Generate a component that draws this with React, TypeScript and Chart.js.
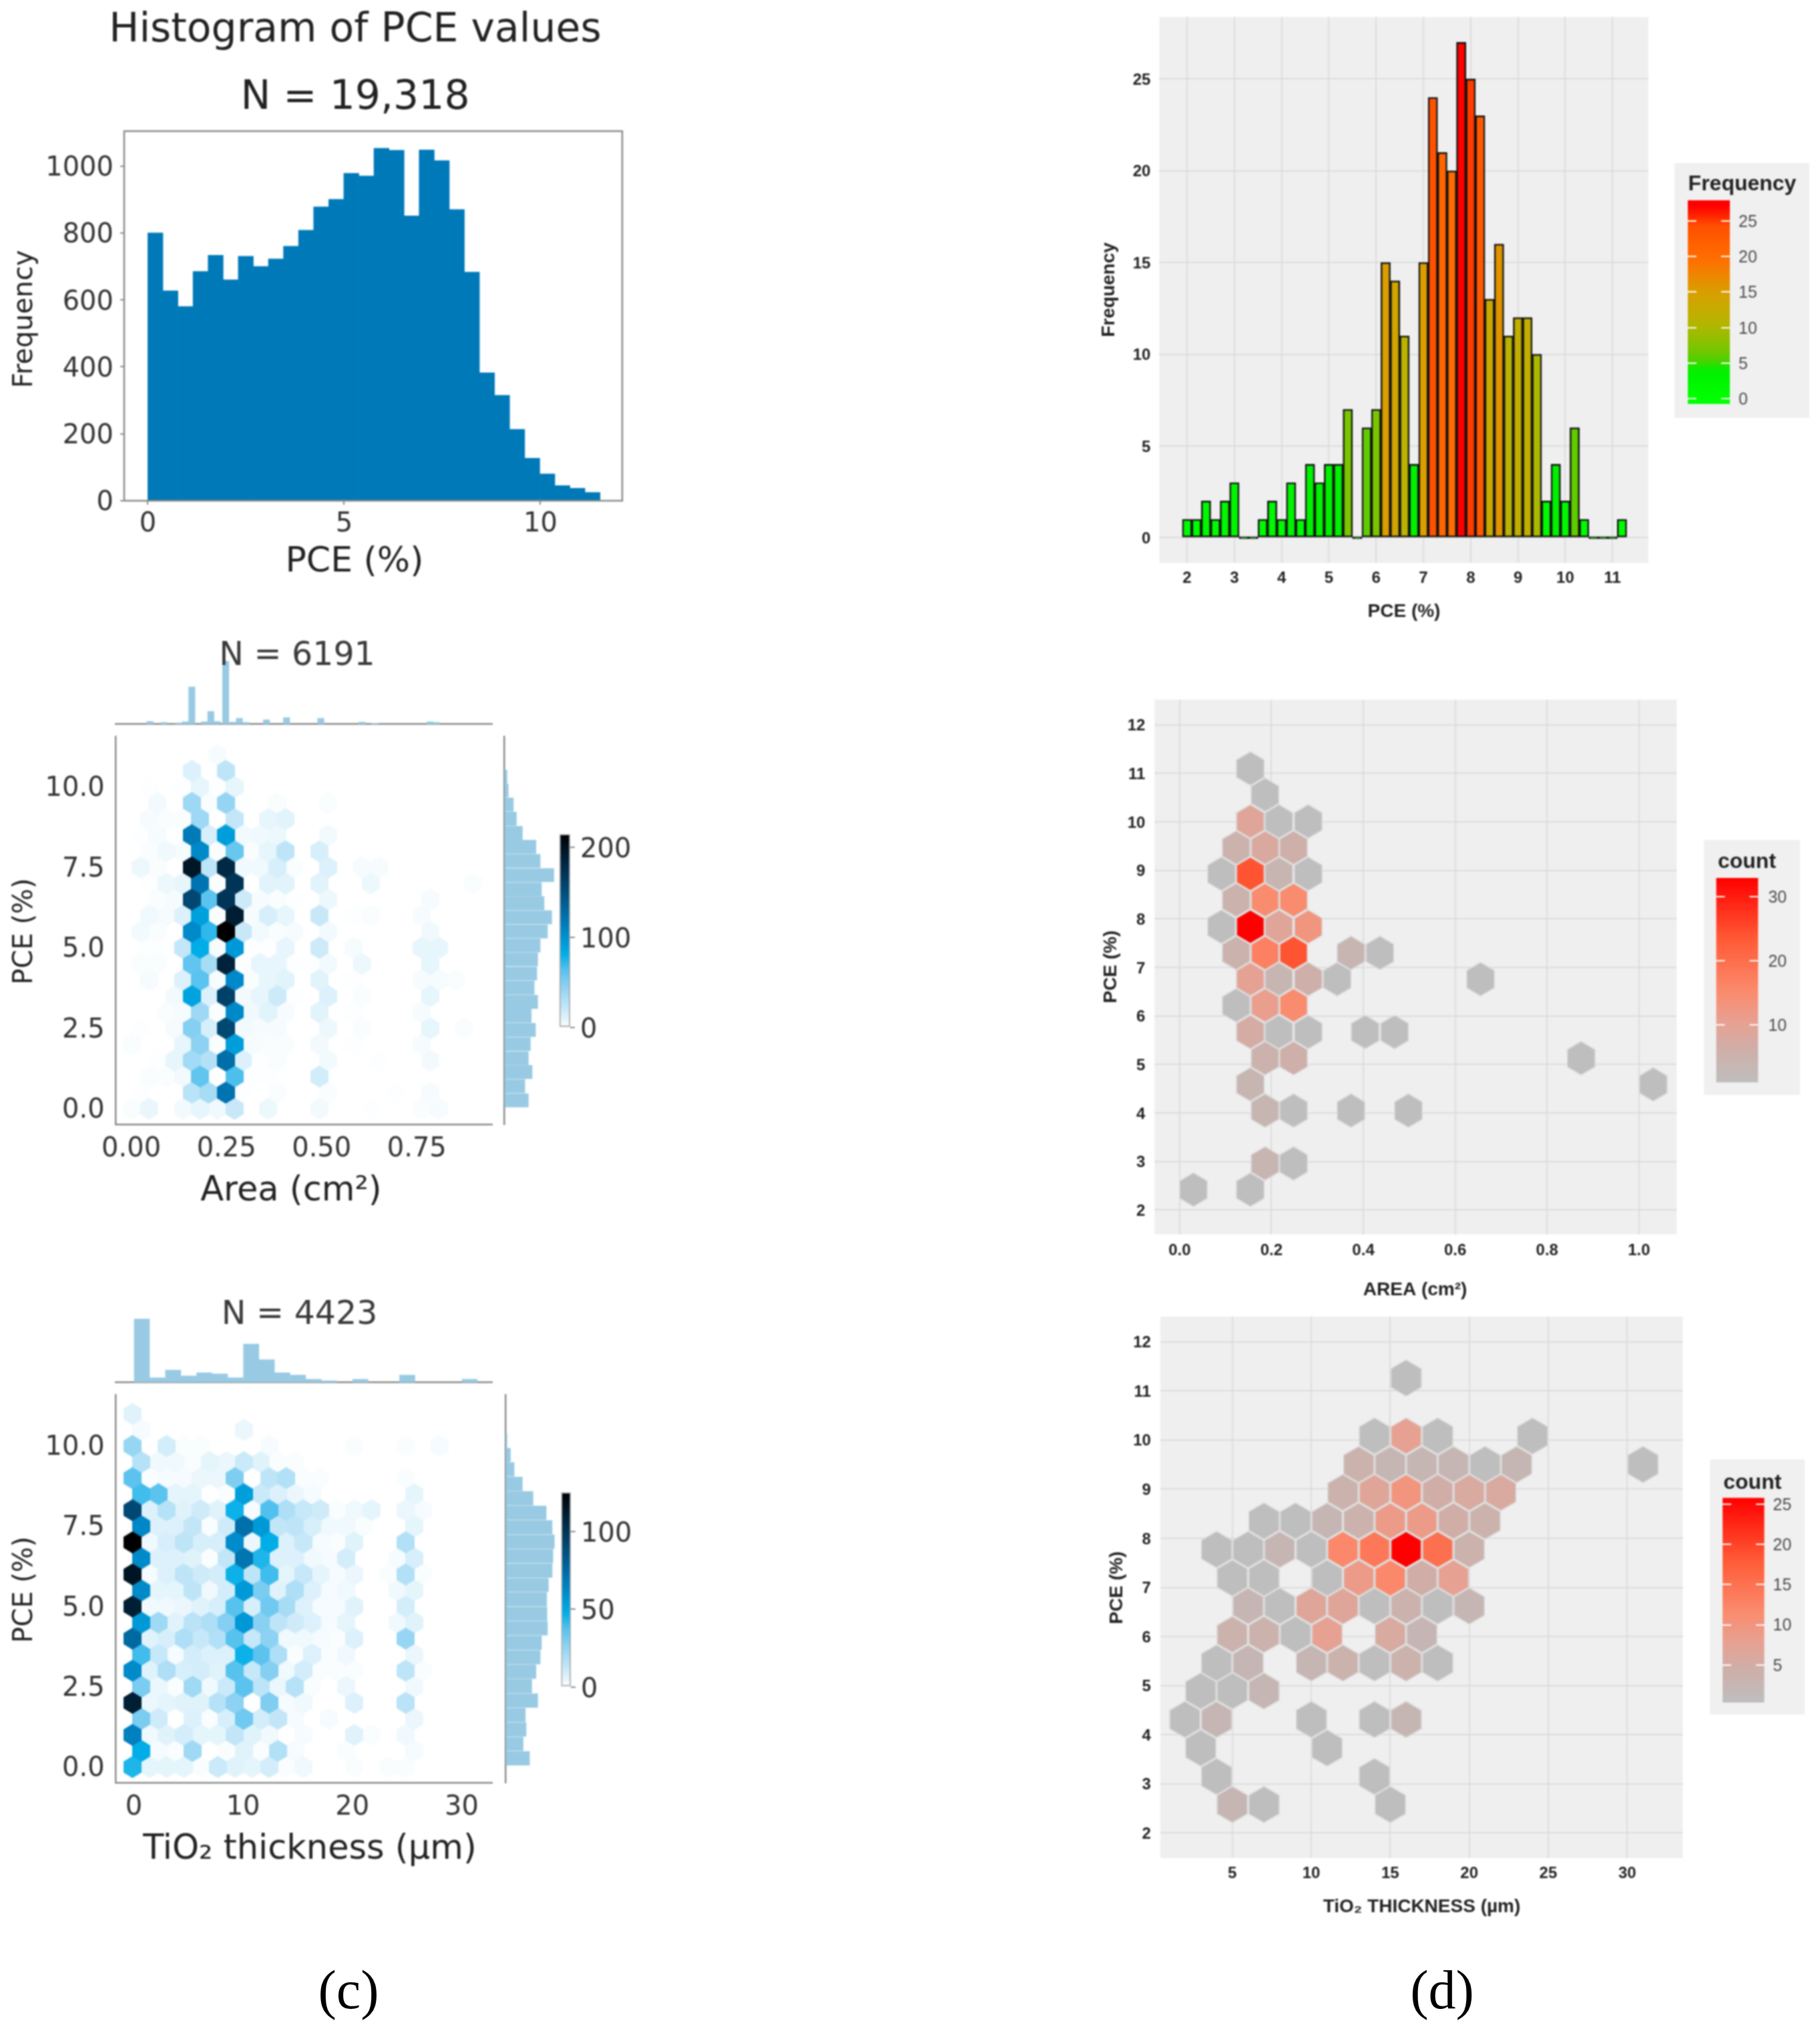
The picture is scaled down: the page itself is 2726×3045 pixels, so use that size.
import React, { useEffect, useRef } from "react";
import { Chart, registerables } from "chart.js";

Chart.register(...registerables);

/* ---------- (c) top: histogram of PCE ---------- */
const pceBinCentres = [0.192,0.576,0.96,1.344,1.728,2.112,2.496,2.88,3.264,3.648,4.032,4.416,4.8,5.184,5.568,5.952,6.336,6.72,7.104,7.488,7.872,8.256,8.64,9.024,9.408,9.792,10.176,10.56,10.944,11.328];
const pceFrequency = [800,627,580,685,733,660,730,700,722,760,808,878,900,978,970,1053,1047,851,1048,1016,870,683,382,315,213,127,80,45,37,25];

/* ---------- shared row positions of the two hexbin panels of (c) ---------- */
const hexRowPce = [0,0.5,1,1.5,2,2.5,3,3.5,4,4.5,5,5.5,6,6.5,7,7.5,8,8.5,9,9.5,10,10.5,11];

/* ---------- (c) area hexbin ---------- */
const areaColsEven = [0.002,0.047,0.092,0.136,0.181,0.226,0.271,0.315,0.36,0.405,0.45,0.494,0.539,0.584,0.629,0.673,0.718,0.763,0.808,0.852,0.897];
const areaColsOdd = [0.025,0.069,0.114,0.159,0.203,0.248,0.293,0.338,0.383,0.427,0.472,0.517,0.562,0.606,0.651,0.696,0.741,0.785,0.83,0.875,0.92];
const areaCounts = [
  [2,7,0,4,8,5,20,0,6,0,0,4,0,0,1,0,0,2,3],
  [1,0,0,26,34,120,1,0,2,0,0,2,0,0,0,1,0,3],
  [0,2,2,4,60,0,66,1,1,0,0,16],
  [0,1,8,36,28,125,12,1,2,0,0,4,0,0,1,0,0,4],
  [2,0,0,8,45,2,92,3,2,2,0,4,0,1,0,0,0,3],
  [1,0,3,48,14,155,4,3,3,0,0,6,0,2,0,0,0,8,0,2],
  [0,0,2,3,38,2,105,5,10,3,0,10,0,1,0,0,0,3],
  [0,0,4,88,12,160,4,8,18,1,0,12,0,2,0,0,0,8],
  [0,3,0,12,62,3,105,2,8,10,0,10,0,1,0,0,0,3,3,2],
  [2,2,0,60,34,185,1,8,8,1,1,4,0,6,0,0,0,8],
  [0,1,1,22,82,3,95,1,1,8,0,18,0,3,0,0,0,8,8],
  [4,2,0,105,72,214,20,4,2,3,0,4,0,0,0,0,0,5],
  [0,5,3,12,90,2,190,3,14,8,0,20,0,1,2,0,0,3],
  [0,2,3,155,62,170,18,3,2,1,0,6,0,0,0,0,0,3],
  [0,1,6,8,120,2,170,0,10,10,0,10,0,0,6,0,0,0,0,0,2],
  [6,2,0,195,24,180,5,5,14,2,0,12,0,3,3],
  [0,2,5,3,105,2,58,2,8,24,0,14],
  [1,3,0,115,14,92,4,5,6,0,0,4],
  [0,3,2,2,38,0,22,0,8,10],
  [0,4,0,38,2,42,1,0,2,0,0,2],
  [0,1,0,1,8,1,8],
  [0,0,0,12,0,24],
  [0,0,0,0,0,3],
];
const areaTopX = [0.049,0.086,0.125,0.142,0.159,0.192,0.209,0.226,0.248,0.267,0.284,0.302,0.355,0.408,0.498,0.606,0.64,0.785,0.802];
const areaTopCount = [49,28,21,42,679,42,231,49,1148,35,105,28,77,119,105,35,14,42,28];
const areaSidePce = [0.26,0.7,1.14,1.57,2.01,2.45,2.89,3.32,3.76,4.2,4.64,5.07,5.51,5.95,6.39,6.82,7.26,7.7,8.14,8.57,9.01,9.45,9.89,10.32];
const areaSideCount = [220,188,255,220,239,286,247,306,274,298,306,329,396,435,365,341,455,329,290,165,110,82,35,24];

/* ---------- (c) TiO2 thickness hexbin ---------- */
const tioColsEven = [-0.12,1.44,3,4.57,6.13,7.69,9.25,10.81,12.38,13.94,15.5,17.06,18.62,20.19,21.75,23.31,24.87,26.43,28,29.56,31.12];
const tioColsOdd = [0.69,2.25,3.81,5.37,6.94,8.5,10.06,11.62,13.18,14.75,16.31,17.87,19.43,20.99,22.56,24.12,25.68,27.24,28.8,30.37,31.93];
const tioCounts = [
  [44,5,5,5,1,11,6,5,9,1,3,0,0,1,0,1,1],
  [48,2,1,22,0,1,6,1,17,2,0,0,1,0,0,0,2],
  [65,3,6,9,5,5,13,6,3,0,2,0,0,6,1,0,3],
  [30,10,0,7,1,8,32,9,13,2,0,2,0,0,0,0,4],
  [110,4,5,6,6,16,26,0,29,2,3,0,0,7,0,0,15],
  [30,4,1,22,3,11,36,14,4,16,1,0,4,0,0,0,3],
  [61,6,18,8,9,6,37,12,28,3,9,1,1,1,0,0,14,1],
  [40,12,2,9,7,7,46,36,18,1,7,1,3,0,0,0,4],
  [75,6,8,18,12,17,37,12,26,3,3,2,1,7,0,0,24],
  [55,22,6,15,18,28,56,27,14,10,7,2,5,0,0,3,6],
  [110,3,3,4,6,8,37,8,32,20,7,2,2,6,0,0,9],
  [61,5,5,14,3,9,55,30,6,18,7,2,3,0,0,3,5],
  [115,2,7,14,10,9,46,14,40,5,12,5,2,4,0,1,17,1],
  [61,7,7,6,1,13,70,44,7,7,3,2,9,0,0,2,8],
  [125,3,8,14,8,8,60,4,48,7,12,2,1,6,0,0,17],
  [62,7,7,13,1,10,72,55,13,14,8,3,3,1,0,0,5],
  [90,7,16,6,10,6,46,2,38,18,12,10,1,3,5,0,4,2],
  [40,36,5,5,0,1,53,11,7,4,2,0,0,0,0,0,5],
  [36,1,2,2,4,4,29,0,14,17,1,1,0,0,0,0,1],
  [16,3,3,1,5,4,11,6,1,1],
  [24,0,9,1,1,0,0,0,2,0,0,0,0,1,0,0,1,0,2],
  [2,0,0,0,0,0,4],
  [6],
];
const tioTopX = [0.74,2.17,3.6,5.02,6.45,7.88,9.31,10.74,12.17,13.59,15.02,16.45,17.88,20.73,25.02,30.73];
const tioTopCount = [990,72,192,102,150,132,72,600,354,150,114,48,24,48,114,48];
const tioSidePce = [0.27,0.72,1.17,1.62,2.07,2.52,2.97,3.42,3.87,4.32,4.77,5.22,5.67,6.12,6.57,7.02,7.47,7.92,8.37,8.82,9.27,9.72,10.17];
const tioSideCount = [152,111,130,125,204,166,193,220,228,266,263,261,272,296,301,310,296,258,174,106,54,30,8];

/* ---------- (d) top: histogram ---------- */
const dHistBins = [2,2.2,2.4,2.6,2.8,3,3.2,3.4,3.6,3.8,4,4.2,4.4,4.6,4.8,5,5.2,5.4,5.6,5.8,6,6.2,6.4,6.6,6.8,7,7.2,7.4,7.6,7.8,8,8.2,8.4,8.6,8.8,9,9.2,9.4,9.6,9.8,10,10.2,10.4,10.6,10.8,11,11.2];
const dHistFreq = [1,1,2,1,2,3,0,0,1,2,1,3,1,4,3,4,4,7,0,6,7,15,14,11,4,15,24,21,20,27,25,23,13,16,11,12,12,10,2,4,2,6,1,0,0,0,1];

/* ---------- (d) area hexbin: one row per PCE level, pairs of [area, count] ---------- */
const dAreaRowPce = [11.1,10.56,10.01,9.47,8.93,8.39,7.84,7.3,6.76,6.22,5.67,5.13,4.59,4.05,2.96,2.42];
const dAreaRows = [
  [[0.154,1]],
  [[0.186,1]],
  [[0.154,9],[0.216,1],[0.28,1]],
  [[0.123,5],[0.186,8],[0.248,6]],
  [[0.091,1],[0.154,24],[0.216,4],[0.28,1]],
  [[0.123,5],[0.186,15],[0.248,15]],
  [[0.091,1],[0.154,33],[0.216,9],[0.28,13]],
  [[0.123,5],[0.186,17],[0.248,24],[0.373,4],[0.436,1]],
  [[0.154,10],[0.216,4],[0.28,6],[0.343,1],[0.655,1]],
  [[0.123,1],[0.186,11],[0.248,15]],
  [[0.154,7],[0.216,1],[0.28,1],[0.404,1],[0.468,1]],
  [[0.186,5],[0.248,6],[0.874,1]],
  [[0.154,4],[1.031,1]],
  [[0.186,4],[0.248,1],[0.373,1],[0.498,1]],
  [[0.186,4],[0.248,1]],
  [[0.03,1],[0.154,1]],
];

/* ---------- (d) TiO2 hexbin ---------- */
const dTioRowPce = [11.26,10.08,9.5,8.93,8.35,7.77,7.19,6.62,6.04,5.46,4.89,4.31,3.73,3.15,2.58];
const dTioRows = [
  [[16,1]],
  [[14,1],[16,8],[18,1],[24,1]],
  [[13,4],[15,3],[17,3],[19,3],[21,1],[23,3],[31,1]],
  [[12,4],[14,7],[16,10],[18,5],[20,6],[22,6]],
  [[7,1],[9,1],[11,3],[13,4],[15,9],[17,9],[19,5],[21,4]],
  [[4,1],[6,1],[8,3],[10,1],[12,12],[14,14],[16,25],[18,15],[20,4]],
  [[5,1],[7,1],[11,1],[13,9],[15,12],[17,5],[19,8]],
  [[6,3],[8,1],[10,7],[12,7],[14,1],[16,4],[18,1],[20,3]],
  [[5,4],[7,4],[9,1],[11,8],[15,6],[17,3]],
  [[4,1],[6,3],[10,3],[12,4],[14,1],[16,4],[18,1]],
  [[3,1],[5,1],[7,3]],
  [[2,1],[4,3],[10,1],[14,1],[16,3]],
  [[3,1],[11,1]],
  [[4,1],[14,1]],
  [[5,3],[7,1],[15,1]],
];

/* ---------- tick values ---------- */
const histXTicks = [0,5,10];
const histYTicks = [0,200,400,600,800,1000];
const areaXTicks = [0,0.25,0.5,0.75];
const tioXTicks = [0,10,20,30];
const pceHexTicks = [0,2.5,5,7.5,10];
const areaBarTicks = [0,100,200];
const tioBarTicks = [0,50,100];
const dHistXTicks = [2,3,4,5,6,7,8,9,10,11];
const dHistYTicks = [0,5,10,15,20,25];
const dHistLegendTicks = [0,5,10,15,20,25];
const dAreaXTicks = [0,0.2,0.4,0.6,0.8,1];
const dTioXTicks = [5,10,15,20,25,30];
const dPceTicks = [2,3,4,5,6,7,8,9,10,11,12];
const dAreaLegendTicks = [10,20,30];
const dTioLegendTicks = [5,10,15,20,25];

/* ---------- colours ---------- */
type Stop = [number, number, number, number];
const hex = (h: string) => [parseInt(h.slice(1, 3), 16), parseInt(h.slice(3, 5), 16), parseInt(h.slice(5, 7), 16)];
const stop = (f: number, c: string): Stop => [f, ...(hex(c) as [number, number, number])];
const blueMap = [stop(0,"#ffffff"),stop(0.05,"#dff2fb"),stop(0.1,"#c4e7f8"),stop(0.2,"#93d4f3"),stop(0.3,"#55c1ee"),stop(0.38,"#00aee8"),stop(0.47,"#008fd0"),stop(0.6,"#0069a2"),stop(0.75,"#004068"),stop(0.88,"#001f35"),stop(1,"#000000")];
const redMap = [stop(0,"#bebebe"),stop(0.15,"#cdb0aa"),stop(0.3,"#e8a091"),stop(0.45,"#fb8a6c"),stop(0.7,"#ff5a35"),stop(1,"#ff0000")];
const histMap = [stop(0,"#00ff00"),stop(0.15,"#00f000"),stop(0.2,"#50d000"),stop(0.27,"#80c400"),stop(0.4,"#b8b400"),stop(0.55,"#d8a000"),stop(0.72,"#ff7000"),stop(0.9,"#ff5000"),stop(1,"#ff0000")];
function mapColor(map: Stop[], f: number) {
  const t = Math.min(1, Math.max(0, f));
  for (let i = 1; i < map.length; i++) {
    if (t <= map[i][0]) {
      const a = map[i - 1], b = map[i], k = (t - a[0]) / (b[0] - a[0]);
      return `rgb(${Math.round(a[1] + (b[1] - a[1]) * k)},${Math.round(a[2] + (b[2] - a[2]) * k)},${Math.round(a[3] + (b[3] - a[3]) * k)})`;
    }
  }
  return "rgb(0,0,0)";
}

/* ---------- hexagon point sprite ---------- */
const sprites = new Map<string, HTMLCanvasElement>();
function hexSprite(color: string, w: number, h: number, stroke?: string) {
  const key = `${color}|${w}|${h}|${stroke}`;
  const hit = sprites.get(key);
  if (hit) return hit;
  const c = document.createElement("canvas");
  c.width = w; c.height = h;
  const g = c.getContext("2d")!;
  const inset = stroke ? 0.8 : 0;
  g.beginPath();
  g.moveTo(w / 2, inset);
  g.lineTo(w - inset, h / 4);
  g.lineTo(w - inset, (3 * h) / 4);
  g.lineTo(w / 2, h - inset);
  g.lineTo(inset, (3 * h) / 4);
  g.lineTo(inset, h / 4);
  g.closePath();
  g.fillStyle = color;
  g.fill();
  if (stroke) { g.strokeStyle = stroke; g.lineWidth = 1.6; g.stroke(); }
  sprites.set(key, c);
  return c;
}

/* ---------- layout helpers ---------- */
type Rect = { l: number; t: number; r: number; b: number };
type TextItem = { text: string; x: number; y: number; font: string; color: string; rot?: boolean; align?: CanvasTextAlign };

const GREY = "#8a8a8a";
const DV = "DejaVu Sans";
const LS = "Liberation Sans";

function textPlugin(rect: Rect, items: TextItem[]) {
  return {
    id: "panelText",
    afterDraw(chart: any) {
      const g = chart.ctx;
      items.forEach((it) => {
        g.save();
        g.translate(it.x - rect.l, it.y - rect.t);
        if (it.rot) g.rotate(-Math.PI / 2);
        g.font = it.font;
        g.fillStyle = it.color;
        g.textAlign = it.align || "center";
        g.textBaseline = "middle";
        g.fillText(it.text, 0, 0);
        g.restore();
      });
    },
  };
}
const framePlugin = (color: string, width: number) => ({
  id: "frame",
  afterDraw(chart: any) {
    const a = chart.chartArea, g = chart.ctx;
    g.save();
    g.strokeStyle = color;
    g.lineWidth = width;
    g.strokeRect(a.left, a.top, a.right - a.left, a.bottom - a.top);
    g.restore();
  },
});

type AxisOpts = {
  min: number; max: number; ticks?: number[]; fmt?: (v: number) => string;
  font?: any; color?: string; pad?: number; off?: number; tickLen?: number; tickColor?: string;
  grid?: string; gridWidth?: number; border?: string; borderWidth?: number; position?: string;
};
function axis(o: AxisOpts, box: number) {
  const hasTicks = !!o.ticks;
  const shown = hasTicks || !!o.border;
  return {
    type: "linear",
    position: o.position,
    offset: false,
    min: o.min,
    max: o.max,
    display: shown,
    afterBuildTicks(s: any) { if (o.ticks) s.ticks = o.ticks.map((value) => ({ value })); },
    afterFit(s: any) {
      const size = shown ? box : 0;
      if (s.isHorizontal()) s.height = size; else s.width = size;
      s.paddingTop = s.paddingBottom = s.paddingLeft = s.paddingRight = 0;
    },
    ticks: {
      display: hasTicks,
      autoSkip: false,
      maxRotation: 0,
      minRotation: 0,
      padding: o.pad ?? 0,
      labelOffset: o.off ?? 0,
      font: o.font,
      color: o.color,
      callback: (v: number) => (o.fmt ? o.fmt(v) : String(v)),
    },
    grid: {
      display: !!o.grid || !!o.tickLen,
      offset: false,
      drawOnChartArea: !!o.grid,
      drawTicks: !!o.tickLen,
      tickLength: o.tickLen ?? 0,
      tickColor: o.tickColor ?? GREY,
      color: o.grid ?? "rgba(0,0,0,0)",
      lineWidth: o.gridWidth ?? 2,
    },
    border: { display: !!o.border, color: o.border, width: o.borderWidth ?? 2.5 },
  };
}

/* builds a config whose plot area lands exactly on `plot` inside the canvas `rect` */
function place(rect: Rect, plot: Rect, x: AxisOpts, y: AxisOpts) {
  const left = plot.l - rect.l, right = rect.r - plot.r, top = plot.t - rect.t, bottom = rect.b - plot.b;
  const xShown = !!x.ticks || !!x.border;
  const yShown = !!y.ticks || !!y.border;
  const yRight = y.position === "right";
  return {
    padding: {
      left: yShown && !yRight ? 0 : left,
      right: yShown && yRight ? 0 : right,
      top,
      bottom: xShown ? 0 : bottom,
    },
    scales: {
      x: axis({ ...x, position: "bottom" }, bottom),
      y: axis({ ...y, position: yRight ? "right" : "left" }, yRight ? right : left),
    },
  };
}

function baseOptions(p: any, extra: any = {}) {
  return {
    animation: false,
    responsive: false,
    devicePixelRatio: 1,
    events: [],
    layout: { padding: p.padding, autoPadding: false },
    plugins: { legend: { display: false }, tooltip: { enabled: false }, title: { display: false } },
    scales: p.scales,
    ...extra,
  };
}

/* ---------- panel builders ---------- */
function barPanel(rect: Rect, plot: Rect, x: AxisOpts, y: AxisOpts, data: any[], ds: any, items: TextItem[] = [], extra: any[] = [], opt: any = {}) {
  const p = place(rect, plot, x, y);
  return {
    rect,
    config: {
      type: "bar",
      data: { datasets: [{ data, barPercentage: 1, categoryPercentage: 1, ...ds }] },
      options: baseOptions(p, opt),
      plugins: [textPlugin(rect, items), ...extra],
    },
  };
}

function gridHexPoints(counts: number[][], even: number[], odd: number[]) {
  const pts: { x: number; y: number; c: number }[] = [];
  counts.forEach((row, r) => {
    const cols = r % 2 === 0 ? even : odd;
    row.forEach((c, i) => { if (c > 0) pts.push({ x: cols[i], y: hexRowPce[r], c }); });
  });
  return pts;
}
function rowHexPoints(rows: number[][][], pce: number[]) {
  const pts: { x: number; y: number; c: number }[] = [];
  rows.forEach((row, r) => row.forEach(([x, c]) => pts.push({ x, y: pce[r], c })));
  return pts;
}
function hexPanel(rect: Rect, plot: Rect, x: AxisOpts, y: AxisOpts, points: any[], style: (c: number) => any, items: TextItem[]) {
  const p = place(rect, plot, x, y);
  const order = [...points].sort((a, b) => a.c - b.c);
  return {
    rect,
    config: {
      type: "scatter",
      data: {
        datasets: [{
          data: order,
          showLine: false,
          pointRadius: 12,
          pointStyle: (ctx: any) => (ctx.raw ? style(ctx.raw.c) : "circle"),
        }],
      },
      options: baseOptions(p),
      plugins: [textPlugin(rect, items)],
    },
  };
}

function colorbarPanel(rect: Rect, plot: Rect, min: number, max: number, ticks: number[], color: (f: number) => string, axisOpts: any, ds: any, items: TextItem[] = []) {
  const p = place(rect, plot, { min: 0, max: 1 }, { min, max, ticks, position: "right", ...axisOpts });
  const xCat = { type: "category", display: false, offset: true };
  return {
    rect,
    config: {
      type: "bar",
      data: {
        labels: [""],
        datasets: [{
          data: [[min, max]],
          barPercentage: 1,
          categoryPercentage: 1,
          backgroundColor: (ctx: any) => {
            const a = ctx.chart.chartArea;
            if (!a) return color(0.5);
            const g = ctx.chart.ctx.createLinearGradient(0, a.bottom, 0, a.top);
            for (let i = 0; i <= 40; i++) g.addColorStop(i / 40, color(i / 40));
            return g;
          },
          ...ds,
        }],
      },
      options: baseOptions({ padding: p.padding, scales: { x: xCat, y: p.scales.y } }),
      plugins: [textPlugin(rect, items)],
    },
  };
}

/* ---------- panels ---------- */
const tickDark = "#333333";
const titleDark = "#222222";
const f40 = { family: DV, size: 40 };
const boldTick = { family: LS, size: 24, weight: "bold" };
const legendTick = { family: LS, size: 25 };
const MARG = "#98cae3";

const areaX = { min: -0.0404, max: 0.9477 };
const areaY = { min: -0.485, max: 11.56 };
const tioX = { min: -1.637, max: 32.78 };
const tioY = { min: -0.487, max: 11.59 };
const areaPlot: Rect = { l: 173.6, t: 1103.5, r: 737, b: 1684 };
const tioPlot: Rect = { l: 173.6, t: 2089.4, r: 737, b: 2670 };

const areaColor = (c: number) => hexSprite(mapColor(blueMap, c / 214), 27, 33);
const tioColor = (c: number) => hexSprite(mapColor(blueMap, c / 125), 27, 33);
const redHex = (max: number, w: number, h: number) => (c: number) => hexSprite(mapColor(redMap, (c - 1) / (max - 1)), w, h, "#dcdcdc");
const ggGrid = { grid: "#dcdcdc", gridWidth: 2 };

const panels: any[] = [
  // (c) histogram
  barPanel(
    { l: 0, t: 0, r: 960, b: 880 }, { l: 186, t: 196.4, r: 932, b: 750 },
    { min: -0.602, max: 12.085, ticks: histXTicks, font: f40, color: tickDark, tickLen: 6, pad: 6 },
    { min: 0, max: 1104, ticks: histYTicks, font: f40, color: tickDark, tickLen: 6, pad: 10, off: 4 },
    pceBinCentres.map((x, i) => ({ x, y: pceFrequency[i] })),
    { backgroundColor: "#0079b9", barThickness: 22.6 },
    [
      { text: "Histogram of PCE values", x: 532, y: 46, font: `60px "${DV}"`, color: titleDark },
      { text: "N = 19,318", x: 532, y: 147, font: `60px "${DV}"`, color: titleDark },
      { text: "PCE (%)", x: 531, y: 842, font: `52px "${DV}"`, color: titleDark },
      { text: "Frequency", x: 38, y: 478, font: `40px "${DV}"`, color: titleDark, rot: true },
    ],
    [framePlugin(GREY, 2.5)],
  ),
  // (c) area: top marginal
  barPanel(
    { l: 170, t: 950, r: 740, b: 1088 }, { l: 173.6, t: 950, r: 737, b: 1084.5 },
    { ...areaX, border: GREY }, { min: 0, max: 1640 },
    areaTopX.map((x, i) => ({ x, y: areaTopCount[i] })),
    { backgroundColor: MARG, barThickness: 9.5 },
    [{ text: "N = 6191", x: 445, y: 983, font: `49px "${DV}"`, color: "#3a3a3a" }],
  ),
  // (c) area: main
  hexPanel(
    { l: 0, t: 1098, r: 745, b: 1820 }, areaPlot,
    { ...areaX, ticks: areaXTicks, fmt: (v) => v.toFixed(2), font: f40, color: tickDark, pad: 14, border: GREY },
    { ...areaY, ticks: pceHexTicks, fmt: (v) => v.toFixed(1), font: f40, color: tickDark, pad: 17, off: 3, border: GREY },
    gridHexPoints(areaCounts, areaColsEven, areaColsOdd), areaColor,
    [
      { text: "Area (cm²)", x: 436, y: 1785, font: `51px "${DV}"`, color: titleDark },
      { text: "PCE (%)", x: 38, y: 1395, font: `40px "${DV}"`, color: titleDark, rot: true },
    ],
  ),
  // (c) area: side marginal
  barPanel(
    { l: 750, t: 1098, r: 835, b: 1690 }, { l: 755.6, t: 1103.5, r: 835, b: 1684 },
    { min: 0, max: 488 }, { ...areaY, border: GREY },
    areaSidePce.map((y, i) => ({ y, x: areaSideCount[i] })),
    { backgroundColor: MARG, barThickness: 20 },
    [], [], { indexAxis: "y" },
  ),
  // (c) area: colour bar
  colorbarPanel(
    { l: 830, t: 1240, r: 960, b: 1570 }, { l: 838, t: 1249.4, r: 854, b: 1538.9 },
    0, 214.4, areaBarTicks, (f) => mapColor(blueMap, f),
    { font: f40, color: tickDark, tickLen: 7, tickColor: GREY, pad: 8, off: 5 },
    { borderColor: "#a8a8a8", borderWidth: 2, borderSkipped: false },
  ),
  // (c) thickness: top marginal
  barPanel(
    { l: 170, t: 1940, r: 740, b: 2074 }, { l: 173.6, t: 1940, r: 737, b: 2070.5 },
    { ...tioX, border: GREY }, { min: 0, max: 1362 },
    tioTopX.map((x, i) => ({ x, y: tioTopCount[i] })),
    { backgroundColor: MARG, barThickness: 23 },
    [{ text: "N = 4423", x: 448.6, y: 1970, font: `49px "${DV}"`, color: "#3a3a3a" }],
  ),
  // (c) thickness: main
  hexPanel(
    { l: 0, t: 2084, r: 745, b: 2810 }, tioPlot,
    { ...tioX, ticks: tioXTicks, font: f40, color: tickDark, pad: 14, border: GREY },
    { ...tioY, ticks: pceHexTicks, fmt: (v) => v.toFixed(1), font: f40, color: tickDark, pad: 17, off: 3, border: GREY },
    gridHexPoints(tioCounts, tioColsEven, tioColsOdd), tioColor,
    [
      { text: "TiO₂ thickness (µm)", x: 464, y: 2771, font: `51px "${DV}"`, color: titleDark },
      { text: "PCE (%)", x: 38, y: 2381, font: `40px "${DV}"`, color: titleDark, rot: true },
    ],
  ),
  // (c) thickness: side marginal
  barPanel(
    { l: 752, t: 2084, r: 835, b: 2676 }, { l: 757.5, t: 2089.4, r: 835, b: 2670 },
    { min: 0, max: 330 }, { ...tioY, border: GREY },
    tioSidePce.map((y, i) => ({ y, x: tioSideCount[i] })),
    { backgroundColor: MARG, barThickness: 20.5 },
    [], [], { indexAxis: "y" },
  ),
  // (c) thickness: colour bar
  colorbarPanel(
    { l: 832, t: 2226, r: 960, b: 2560 }, { l: 840.5, t: 2235.3, r: 855, b: 2526.5 },
    0, 125, tioBarTicks, (f) => mapColor(blueMap, f),
    { font: f40, color: tickDark, tickLen: 7, tickColor: GREY, pad: 8, off: 5 },
    { borderColor: "#a8a8a8", borderWidth: 2, borderSkipped: false },
  ),
  // (d) histogram
  barPanel(
    { l: 1640, t: 10, r: 2490, b: 945 }, { l: 1736.4, t: 25.5, r: 2469, b: 843 },
    { min: 1.412, max: 11.76, ticks: dHistXTicks, font: boldTick, color: "#222", pad: 9, ...ggGrid },
    { min: -1.37, max: 28.38, ticks: dHistYTicks, font: boldTick, color: "#222", pad: 13, off: 2, ...ggGrid },
    dHistBins.map((x, i) => ({ x, y: dHistFreq[i] })),
    {
      backgroundColor: dHistFreq.map((v) => mapColor(histMap, v / 27)),
      borderColor: "#111", borderWidth: 2.5, borderSkipped: false, barThickness: 14.3, minBarLength: 3,
    },
    [
      { text: "PCE (%)", x: 2103, y: 916, font: `bold 28px "${LS}"`, color: "#222" },
      { text: "Frequency", x: 1661, y: 434, font: `bold 28px "${LS}"`, color: "#222", rot: true },
    ],
  ),
  colorbarPanel(
    { l: 2508, t: 244, r: 2710, b: 626 }, { l: 2528, t: 300, r: 2591, b: 605 },
    -0.73, 27.9, dHistLegendTicks, (f) => mapColor(histMap, (f * 28.63 - 0.73) / 27),
    { font: legendTick, color: "#4d4d4d", pad: 13, off: 2, grid: "#ffffff", gridWidth: 2, z: 1 },
    {},
    [{ text: "Frequency", x: 2609.5, y: 276, font: `bold 32px "${LS}"`, color: "#222" }],
  ),
  // (d) area hexbin
  hexPanel(
    { l: 1640, t: 1040, r: 2530, b: 1955 }, { l: 1729.4, t: 1048, r: 2511.3, b: 1848.7 },
    { min: -0.0544, max: 1.082, ticks: dAreaXTicks, fmt: (v) => v.toFixed(1), font: boldTick, color: "#222", pad: 10, ...ggGrid },
    { min: 1.5, max: 12.52, ticks: dPceTicks, font: boldTick, color: "#222", pad: 14, off: 2, ...ggGrid },
    rowHexPoints(dAreaRows, dAreaRowPce), redHex(33, 43, 52),
    [
      { text: "AREA (cm²)", x: 2119.6, y: 1932, font: `bold 28px "${LS}"`, color: "#222" },
      { text: "PCE (%)", x: 1664, y: 1448, font: `bold 28px "${LS}"`, color: "#222", rot: true },
    ],
  ),
  colorbarPanel(
    { l: 2551.5, t: 1258, r: 2696, b: 1640 }, { l: 2570, t: 1315, r: 2633.4, b: 1621.3 },
    1, 32.9, dAreaLegendTicks, (f) => mapColor(redMap, f),
    { font: legendTick, color: "#4d4d4d", pad: 15, off: 2, grid: "#ffffff", gridWidth: 2, z: 1 },
    {},
    [{ text: "count", x: 2616, y: 1291, font: `bold 32px "${LS}"`, color: "#222" }],
  ),
  // (d) thickness hexbin
  hexPanel(
    { l: 1640, t: 1965, r: 2540, b: 2880 }, { l: 1737.9, t: 1972, r: 2520.5, b: 2783 },
    { min: 0.44, max: 33.52, ticks: dTioXTicks, font: boldTick, color: "#222", pad: 9, ...ggGrid },
    { min: 1.49, max: 12.51, ticks: dPceTicks, font: boldTick, color: "#222", pad: 14, off: 2, ...ggGrid },
    rowHexPoints(dTioRows, dTioRowPce), redHex(25, 47, 56),
    [
      { text: "TiO₂ THICKNESS (µm)", x: 2129.5, y: 2856, font: `bold 28px "${LS}"`, color: "#222" },
      { text: "PCE (%)", x: 1673, y: 2378, font: `bold 28px "${LS}"`, color: "#222", rot: true },
    ],
  ),
  colorbarPanel(
    { l: 2560.7, t: 2185.6, r: 2703, b: 2568 }, { l: 2579.8, t: 2243, r: 2642.6, b: 2550 },
    0.34, 25.77, dTioLegendTicks, (f) => mapColor(redMap, f),
    { font: legendTick, color: "#4d4d4d", pad: 13, off: 2, grid: "#ffffff", gridWidth: 2, z: 1 },
    {},
    [{ text: "count", x: 2624.5, y: 2221, font: `bold 32px "${LS}"`, color: "#222" }],
  ),
];

// Legends of (d): white stubs on both edges of the gradient, grey backdrop
const legendIndexes = new Set([10, 12, 14]);
panels.forEach((p, i) => {
  if (legendIndexes.has(i)) {
    const y = p.config.options.scales.y;
    y.grid.z = 1;
    y.grid.drawTicks = false;
    y.grid.tickLength = 0;
    y.border = { display: false, dash: [13, 37, 13, 0] };
    p.background = "#f0f0f0";
  }
});
// Plot backdrop of the ggplot panels of (d)
const backdropPlugin = (plot: Rect, rect: Rect) => ({
  id: "backdrop",
  beforeDraw(chart: any) {
    const g = chart.ctx;
    g.save();
    g.fillStyle = "#efefef";
    g.fillRect(plot.l - rect.l, plot.t - rect.t, plot.r - plot.l, plot.b - plot.t);
    g.restore();
  },
});
panels[9].config.plugins.push(backdropPlugin({ l: 1736.4, t: 25.5, r: 2469, b: 843 }, panels[9].rect));
panels[11].config.plugins.push(backdropPlugin({ l: 1729.4, t: 1048, r: 2511.3, b: 1848.7 }, panels[11].rect));
panels[13].config.plugins.push(backdropPlugin({ l: 1737.9, t: 1972, r: 2520.5, b: 2783 }, panels[13].rect));

function Panel({ panel, blur }: { panel: any; blur: number }) {
  const ref = useRef<HTMLCanvasElement>(null);
  useEffect(() => {
    const chart = new Chart(ref.current as any, panel.config);
    return () => chart.destroy();
  }, [panel]);
  const { rect } = panel;
  return (
    <canvas
      ref={ref}
      width={rect.r - rect.l}
      height={rect.b - rect.t}
      style={{
        position: "absolute",
        left: rect.l,
        top: rect.t,
        width: rect.r - rect.l,
        height: rect.b - rect.t,
        background: panel.background,
        filter: `blur(${blur}px)`,
      }}
    />
  );
}

const subLabel = (left: number): React.CSSProperties => ({
  position: "absolute",
  left,
  top: 2940,
  transform: "translateX(-50%)",
  font: '82px/1 "Liberation Serif"',
  color: "#000",
});

export default function App() {
  return (
    <div style={{ position: "absolute", left: 0, top: 0, width: 2726, height: 3045, background: "#fff", overflow: "hidden" }}>
      {panels.map((p, i) => (
        <Panel key={i} panel={p} blur={i < 9 ? 1.3 : 1.1} />
      ))}
      <div style={subLabel(522)}>(c)</div>
      <div style={subLabel(2160)}>(d)</div>
    </div>
  );
}
